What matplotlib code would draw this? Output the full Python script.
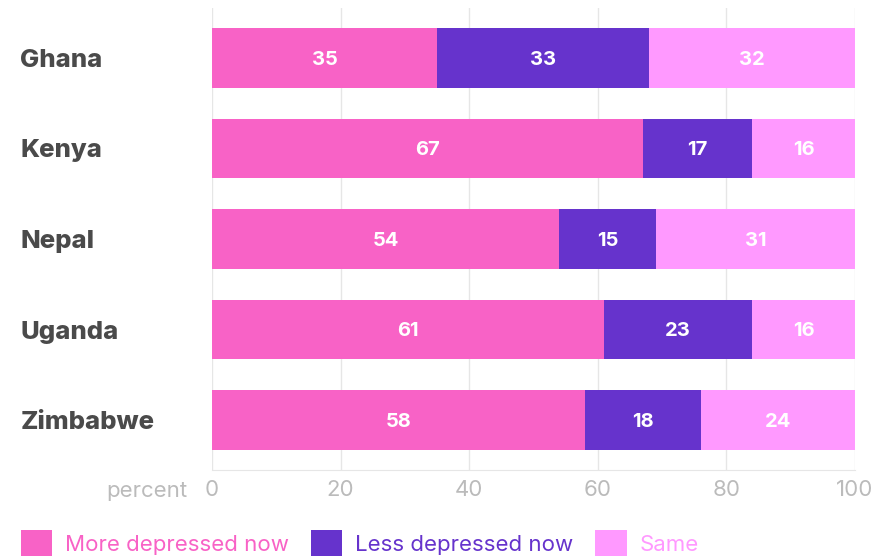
"""Stacked horizontal bars: change in depression by country."""
import matplotlib
matplotlib.use("Agg")
import matplotlib.pyplot as plt
import numpy as np
from matplotlib.patches import Patch

countries = ["Ghana", "Kenya", "Nepal", "Uganda", "Zimbabwe"]
more_depressed = [35, 67, 54, 61, 58]
less_depressed = [33, 17, 15, 23, 18]
same = [32, 16, 31, 16, 24]
series_names = ["More depressed now", "Less depressed now", "Same"]
colors = ["#f862c6", "#6633cc", "#ff99ff"]
xticks = [0, 20, 40, 60, 80, 100]

plt.rcParams["font.family"] = ["Inter", "DejaVu Sans"]

fig = plt.figure(figsize=(8.9, 5.56), dpi=100)
ax = fig.add_axes([212 / 890, 1 - 470 / 556, 643 / 890, 462 / 556])

y = np.arange(len(countries))
left = np.zeros(len(countries))
for vals, col in zip([more_depressed, less_depressed, same], colors):
    bars = ax.barh(y, vals, left=left, height=0.66, color=col, zorder=2)
    for b, v in zip(bars, vals):
        ax.text(b.get_x() + b.get_width() / 2, b.get_y() + b.get_height() / 2 + 0.02, str(v),
                ha="center", va="center", color="white", fontsize=14.5, fontweight="bold", zorder=3)
    left += np.array(vals)

ax.set_xlim(0, 100)
ax.set_ylim(len(countries) - 0.45, -0.55)
ax.set_xticks(xticks)
ax.set_xticklabels([str(t) for t in xticks], color="#bbbbbb", fontsize=16)
ax.set_yticks(y)
ax.set_yticklabels(countries, fontsize=18.5, fontweight="heavy", color="#4a4a4a")
for lab in ax.get_yticklabels():
    lab.set_horizontalalignment("left")
ax.tick_params(axis="y", length=0, pad=138)
ax.tick_params(axis="x", length=0, pad=7)
ax.grid(axis="x", color="#e6e6e6", linewidth=1, zorder=0)
for s in ["top", "right", "left"]:
    ax.spines[s].set_visible(False)
ax.spines["bottom"].set_color("#e6e6e6")

fig.text(187 / 890, 1 - 491 / 556, "percent", ha="right", va="center", color="#bbbbbb", fontsize=16)

handles = [Patch(facecolor=c) for c in colors]
leg = fig.legend(handles, series_names, loc="lower left", bbox_to_anchor=(21 / 890, 0), ncol=3,
                 frameon=False, fontsize=16, handlelength=1.4, handleheight=1.4, borderpad=0,
                 borderaxespad=0, handletextpad=0.58, columnspacing=1.0)
for t, c in zip(leg.get_texts(), colors):
    t.set_color(c)

fig.savefig("out.png", dpi=100)
